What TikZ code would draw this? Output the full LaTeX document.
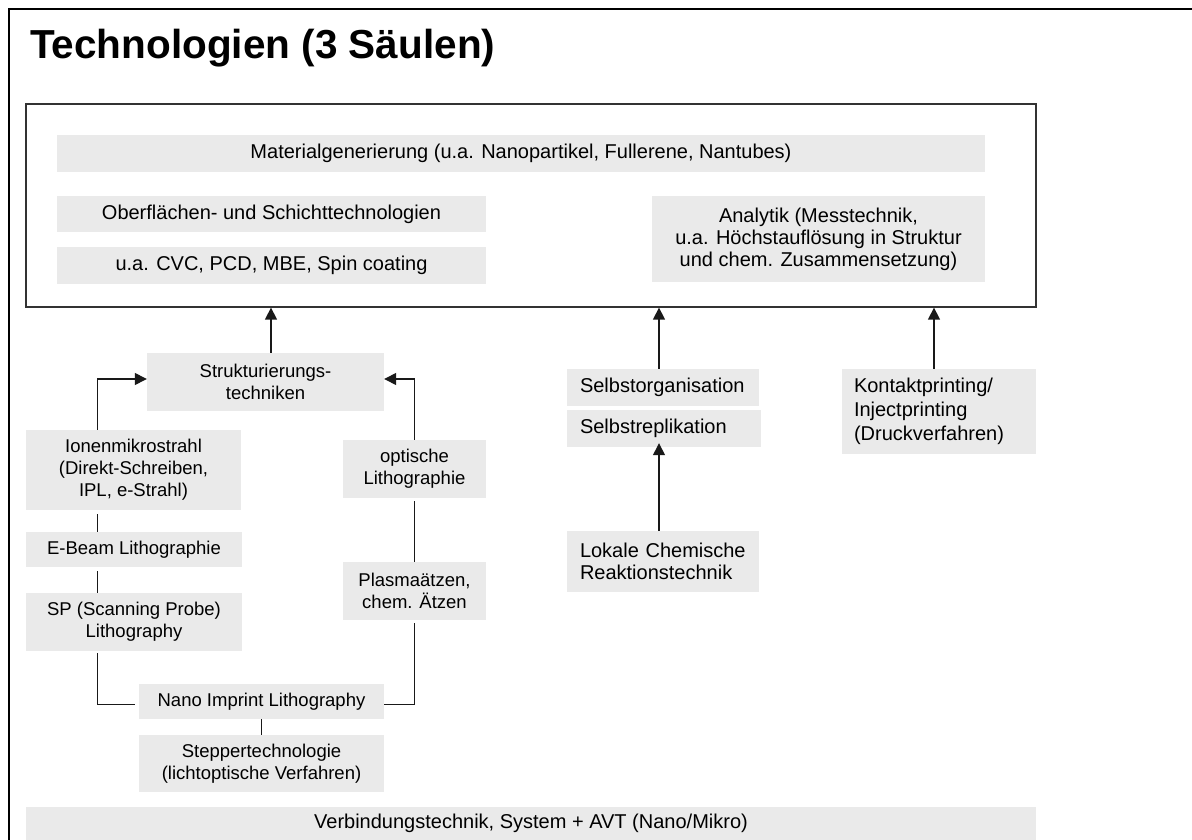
\documentclass[tikz,border=0pt]{standalone}
\usepackage{fontspec}
\setmainfont{Liberation Sans}
\usetikzlibrary{arrows.meta}
\definecolor{boxgray}{HTML}{EAEAEA}
\definecolor{framegray}{HTML}{333333}
\begin{document}
\begin{tikzpicture}[x=1pt,y=-1pt,
  gbox/.style={fill=boxgray, draw=none, inner sep=0pt, align=center, font=\fontsize{20}{22}\selectfont},
  sbox/.style={gbox, font=\fontsize{18.5}{22}\selectfont},
  lbox/.style={fill=boxgray, draw=none, inner xsep=13pt, inner ysep=0pt, align=left, font=\fontsize{20}{22}\selectfont},
  conn/.style={line width=1.4pt, draw=black!90},
  arr/.style={conn, -{Triangle[length=12pt,width=12pt]}},
]
\useasboundingbox (0,0) rectangle (1192,840);
% outer frame (cropped)
\draw[line width=2.5pt] (9,850) -- (9,9) -- (1200,9);
% title
\node[anchor=base west, inner sep=0pt, font=\fontsize{40.5}{48}\selectfont\bfseries] (title) at (30,59) {Technologien (3 Säulen)};
% main box
\node[draw=framegray, line width=1.3pt, minimum width=1010pt, minimum height=203pt, inner sep=0pt] (main) at (531,205.5) {};
\node[gbox, minimum width=928pt, minimum height=37pt] (mat) at (521,153.5) {Materialgenerierung (u.a. Nanopartikel, Fullerene, Nantubes)};
\node[gbox, minimum width=429pt, minimum height=36pt] (obf) at (271.5,214) {Oberflächen- und Schichttechnologien};
\node[gbox, minimum width=429pt, minimum height=37pt] (cvc) at (271.5,265.5) {u.a. CVC, PCD, MBE, Spin coating};
\node[gbox, minimum width=333pt, minimum height=86pt] (ana) at (818.5,239) {Analytik (Messtechnik,\\u.a. Höchstauflösung in Struktur\\und chem. Zusammensetzung)};
% left column
\node[sbox, minimum width=237pt, minimum height=58pt] (str) at (265.5,382) {Strukturierungs-\\techniken};
\node[sbox, minimum width=215pt, minimum height=80pt] (ion) at (133.5,470) {Ionenmikrostrahl\\(Direkt-Schreiben,\\IPL, e-Strahl)};
\node[sbox, minimum width=216pt, minimum height=35pt] (ebe) at (134,549.5) {E-Beam Lithographie};
\node[sbox, minimum width=216pt, minimum height=58pt] (spl) at (134,622) {SP (Scanning Probe)\\Lithography};
\node[sbox, minimum width=143pt, minimum height=58pt] (opt) at (414.5,469) {optische\\Lithographie};
\node[sbox, minimum width=143pt, minimum height=58pt] (pla) at (414.5,591) {Plasmaätzen,\\chem. Ätzen};
\node[sbox, minimum width=245pt, minimum height=35pt] (nan) at (261.5,701.5) {Nano Imprint Lithography};
\node[sbox, minimum width=245pt, minimum height=57pt] (stp) at (261.5,763.5) {Steppertechnologie\\(lichtoptische Verfahren)};
% bottom bar
\node[gbox, minimum width=1010pt, minimum height=33pt] (vbd) at (531,823.5) {Verbindungstechnik, System + AVT (Nano/Mikro)};
% middle and right columns
\node[lbox, text width=166pt, minimum height=37pt] (sor) at (663,387.5) {Selbstorganisation};
\node[lbox, text width=168pt, minimum height=37pt] (srp) at (664,428.5) {Selbstreplikation};
\node[lbox, text width=166pt, minimum height=61pt] (lok) at (663,561.5) {Lokale Chemische\\Reaktionstechnik};
\node[lbox, inner xsep=12pt, text width=170pt, minimum height=85pt, font=\fontsize{20}{24}\selectfont] (kon) at (939,411.5) {Kontaktprinting/\\Injectprinting\\(Druckverfahren)};
% connectors into main box
\coordinate (s1) at ([xshift=5.5pt]str.north);
\draw[arr] (s1) -- (s1 |- main.south);
\coordinate (s2) at ([xshift=-4pt]sor.north);
\draw[arr] (s2) -- (s2 |- main.south);
\coordinate (s3) at ([xshift=-5pt]kon.north);
\draw[arr] (s3) -- (s3 |- main.south);
\coordinate (s4) at ([xshift=-4pt]lok.north);
\draw[arr, shorten >=-4pt] (s4) -- (s4 |- srp.south);
% left loop
\coordinate (l1) at ([xshift=-36pt]ion.north);
\draw[arr] (l1) |- ([yshift=3pt]str.west);
\coordinate (l2) at ([xshift=-36pt]ion.south);
\draw[conn, shorten <=4pt] (l2) -- (l2 |- ebe.north);
\coordinate (l3) at ([xshift=-36.5pt]ebe.south);
\draw[conn, shorten <=4pt] (l3) -- (l3 |- spl.north);
\coordinate (l4) at ([xshift=-36.5pt]spl.south);
\draw[conn, shorten <=2pt, shorten >=4pt] (l4) |- ([yshift=-3pt]nan.west);
% right loop
\draw[conn, shorten >=3pt] ([yshift=-3pt]nan.east) -| (pla.south);
\draw[conn, shorten <=3pt] (opt.south) -- (pla.north);
\draw[arr] (opt.north) |- ([yshift=3pt]str.east);
\draw[conn] (nan.south) -- (stp.north);
\end{tikzpicture}
\end{document}
